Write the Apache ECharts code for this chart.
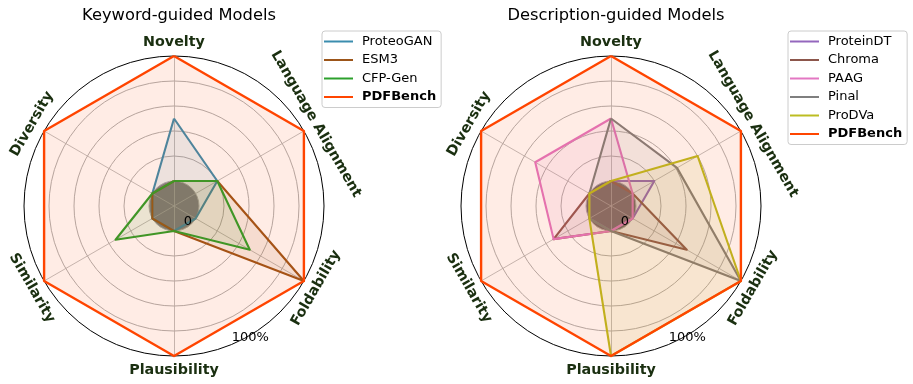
<!DOCTYPE html>
<html>
<head>
<meta charset="utf-8">
<script src="https://cdn.jsdelivr.net/npm/echarts@6/dist/echarts.min.js"></script>
<style>
html,body{margin:0;padding:0;background:#fff;}
#chart{width:913px;height:384px;}
</style>
</head>
<body>
<div id="chart"></div>
<script>
// Axis order as read clockwise from the top
const axisNames = ['Novelty', 'Language Alignment', 'Foldability', 'Plausibility', 'Similarity', 'Diversity'];
const panelTitles = ['Keyword-guided Models', 'Description-guided Models'];

// Values in % (same order as axisNames)
const leftModels = ['ProteoGAN', 'ESM3', 'CFP-Gen', 'PDFBench'];
const proteoGAN = [50, 20, 0, 0, 0, 0];
const esm3      = [0, 20, 100, 0, 0, 0];
const cfpGen    = [0, 20, 50, 0, 34, 0];
const pdfBench  = [100, 100, 100, 100, 100, 100];

const rightModels = ['ProteinDT', 'Chroma', 'PAAG', 'Pinal', 'ProDVa', 'PDFBench'];
const proteinDT = [0, 20, 0, 0, 0, 0];
const chroma    = [0, 0, 50, 0, 33, 0];
const paag      = [50, 0, 0, 0, 33, 50];
const pinal     = [50, 41, 100, 0, 0, 0];
const prodva    = [0, 60, 100, 100, 0, 0];

const radialMin = -20, radialMax = 100;

const leftColors  = ['#3b8dae', '#9c5519', '#2ca02c', '#ff4500'];
const rightColors = ['#9467bd', '#8c564b', '#e377c2', '#7f7f7f', '#bcbd22', '#ff4500'];

const leftValues  = [proteoGAN, esm3, cfpGen, pdfBench];
const rightValues = [proteinDT, chroma, paag, pinal, prodva, pdfBench];

// ECharts lays indicators counter-clockwise; reorder so they read clockwise
const ecOrder = [0, 5, 4, 3, 2, 1];
const reorder = arr => ecOrder.map(i => arr[i]);

const centers = [[174, 206], [611, 206]];
const R = 150;
const FONT = 'DejaVu Sans';
const nameColor = '#1a2f10';

function makeRadar(center, innerColor) {
  return {
    center: center,
    radius: R,
    shape: 'circle',
    startAngle: 90,
    splitNumber: 6,
    indicator: reorder(axisNames).map(n => ({ name: n, min: radialMin, max: radialMax })),
    axisName: { show: false },
    axisLine: { lineStyle: { color: '#b0b0b0', width: 0.8 } },
    splitLine: { lineStyle: { color: ['#b0b0b0', '#b0b0b0', '#b0b0b0', '#b0b0b0', '#b0b0b0', '#b0b0b0', '#000000'], width: 1 } },
    splitArea: { show: true, areaStyle: { color: [innerColor, 'rgba(0,0,0,0)', 'rgba(0,0,0,0)', 'rgba(0,0,0,0)', 'rgba(0,0,0,0)', 'rgba(0,0,0,0)'] } },
    axisLabel: { show: false },
    axisTick: { show: false }
  };
}

const series = [];
function addSeries(radarIndex, names, values, colors) {
  names.forEach((n, i) => {
    series.push({
      type: 'radar',
      radarIndex: radarIndex,
      name: n,
      symbol: 'none',
      z: 2 + i,
      lineStyle: { color: colors[i], width: n === 'PDFBench' ? 2.4 : 2.1 },
      itemStyle: { color: colors[i] },
      areaStyle: { color: colors[i], opacity: 0.1 },
      data: [{ value: reorder(values[i]), name: n }]
    });
  });
}
addSeries(0, leftModels, leftValues, leftColors);
addSeries(1, rightModels, rightValues, rightColors);

// Axis name texts, rotated tangentially
const nameAngles = [90, 30, -30, -90, -150, 150];
const nameRot = [0, -60, 60, 0, -60, 60];
const graphics = [];
centers.forEach(c => {
  axisNames.forEach((n, i) => {
    const a = nameAngles[i] * Math.PI / 180;
    const rr = 164;
    graphics.push({
      type: 'text',
      x: c[0] + rr * Math.cos(a),
      y: c[1] - rr * Math.sin(a),
      rotation: nameRot[i] * Math.PI / 180,
      style: { text: n, align: 'center', verticalAlign: 'middle', font: 'bold 14.3px "' + FONT + '"', fill: nameColor },
      z: 100
    });
  });
  graphics.push({
    type: 'text', x: c[0] + 14, y: c[1] + 16,
    style: { text: '0', align: 'center', verticalAlign: 'middle', font: '13px "' + FONT + '"', fill: '#000' }, z: 100
  });
  const a100 = -60 * Math.PI / 180;
  graphics.push({
    type: 'text', x: c[0] + 152.5 * Math.cos(a100), y: c[1] - 152.5 * Math.sin(a100),
    style: { text: '100%', align: 'center', verticalAlign: 'middle', font: '13px "' + FONT + '"', fill: '#000' }, z: 100
  });
});

function legendData(names) {
  return names.map(n => n === 'PDFBench' ? { name: n, textStyle: { fontWeight: 'bold' } } : { name: n });
}
function makeLegend(names, left) {
  return {
    data: legendData(names),
    orient: 'vertical',
    left: left,
    top: 31,
    icon: 'rect',
    itemWidth: 29,
    itemHeight: 2,
    itemGap: 5.5,
    padding: [4, 5, 4, 2],
    borderColor: '#cccccc',
    borderWidth: 1,
    borderRadius: 3,
    backgroundColor: 'rgba(255,255,255,0.8)',
    textStyle: { fontFamily: FONT, fontSize: 13, color: '#000', padding: [0, 0, 0, 4] },
    selectedMode: false
  };
}

const chart = echarts.init(document.getElementById('chart'), null, { renderer: 'canvas' });
chart.setOption({
  backgroundColor: '#ffffff',
  animation: false,
  title: panelTitles.map((t, i) => ({
    text: t, left: centers[i][0], top: 3, textAlign: 'center',
    textStyle: { fontFamily: FONT, fontSize: 16.3, fontWeight: 'normal', color: '#000' }
  })),
  legend: [makeLegend(leftModels, 322), makeLegend(rightModels, 788)],
  radar: [makeRadar(centers[0], '#818187'), makeRadar(centers[1], '#676768')],
  series: series,
  graphic: graphics
});
</script>
</body>
</html>
